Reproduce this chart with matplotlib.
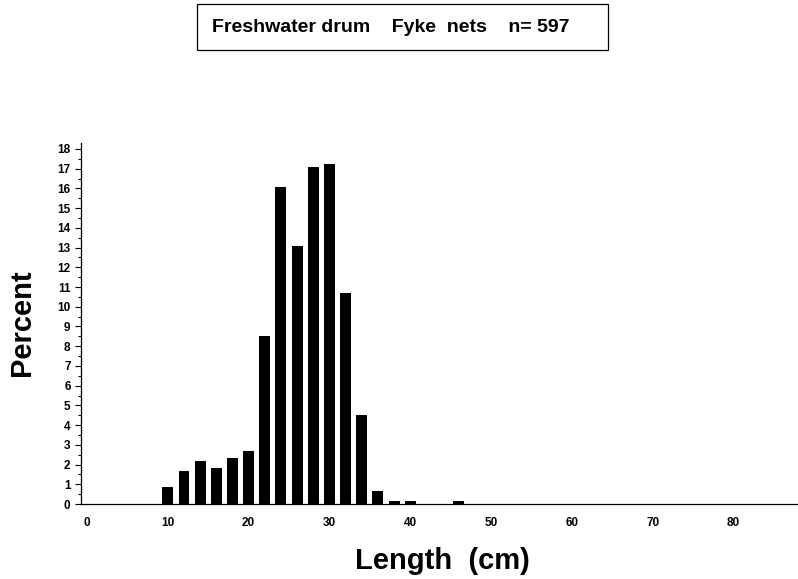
import matplotlib
matplotlib.use("Agg")
import matplotlib.pyplot as plt
import numpy as np
from matplotlib.patches import Rectangle

plt.rcParams['font.family'] = ['Liberation Sans', 'DejaVu Sans']

# length class midpoints (cm) and percent of catch
lengths = [10, 12, 14, 16, 18, 20, 22, 24, 26, 28, 30, 32, 34, 36, 38, 40, 46]
percent = [0.84, 1.68, 2.18, 1.84, 2.35, 2.68, 8.54, 16.08, 13.07, 17.09,
           17.25, 10.72, 4.52, 0.67, 0.17, 0.17, 0.17]
xticks = [0, 10, 20, 30, 40, 50, 60, 70, 80]
yticks = list(range(0, 19))
title = "Freshwater drum    Fyke  nets    n= 597"

fig = plt.figure(figsize=(7.98, 5.79), dpi=100)
ax = fig.add_axes([0.1015, 0.1295, 0.8985, 0.6235])

ax.bar(lengths, percent, width=1.35, color='black')

ax.set_xlim(-0.75, 88)
ax.set_ylim(0, 18.3)
ax.set_xticks(xticks)
ax.set_yticks(yticks)
ax.set_yticks(np.arange(0.5, 18, 1), minor=True)
ax.tick_params(axis='x', length=0, pad=9, labelsize=8.5)
ax.tick_params(axis='y', which='major', length=4.5, width=0.8, pad=3, labelsize=8.5)
ax.tick_params(axis='y', which='minor', length=2.5, width=0.8)
for lab in ax.get_xticklabels() + ax.get_yticklabels():
    lab.set_fontweight('bold')

for s in ['top', 'right']:
    ax.spines[s].set_visible(False)
ax.spines['left'].set_linewidth(0.9)
ax.spines['bottom'].set_linewidth(0.9)

# axis titles placed in figure coords
fig.text(0.555, 0.031, "Length  (cm)", ha='center', va='center',
         fontsize=21, fontweight='bold')
fig.text(0.028, 0.442, "Percent", ha='center', va='center', rotation=90,
         fontsize=21, fontweight='bold')

# title box
fig.patches.append(Rectangle((0.2469, 0.9136), 0.515, 0.0795,
                             transform=fig.transFigure, facecolor='white',
                             edgecolor='black', linewidth=0.9))
fig.text(0.4895, 0.953, title, ha='center', va='center', fontsize=14,
         fontweight='bold')

fig.savefig("out.png", dpi=100)
